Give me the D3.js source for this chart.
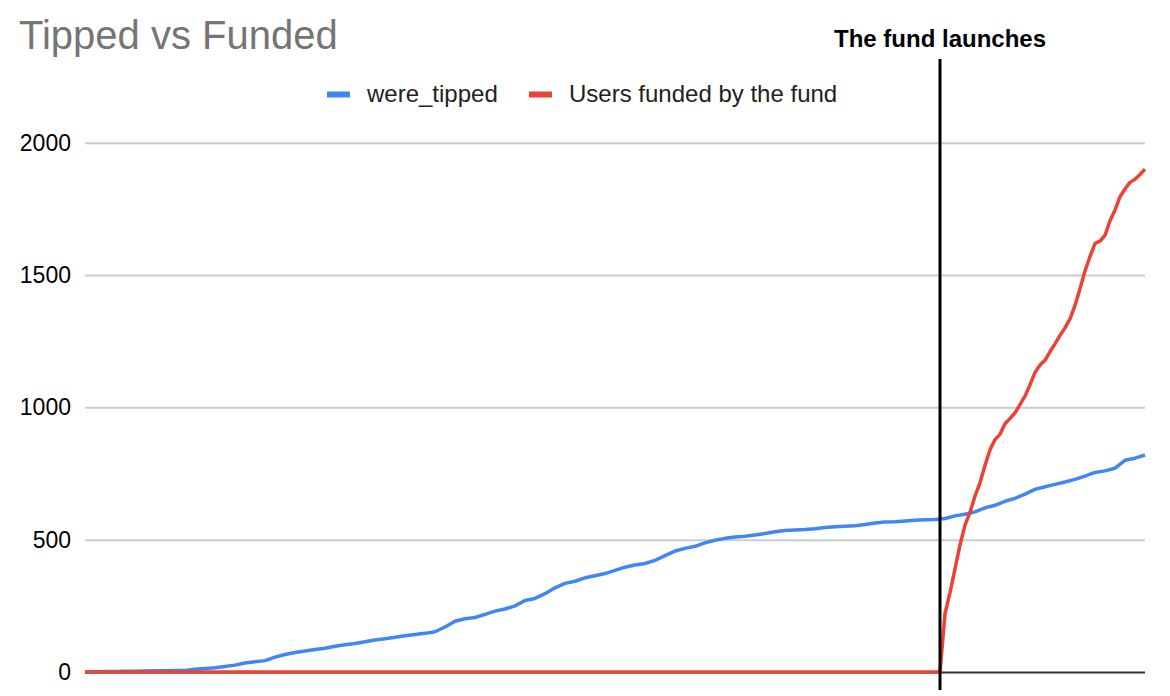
<!DOCTYPE html>
<html>
<head>
<meta charset="utf-8">
<script src="https://cdn.jsdelivr.net/npm/d3@7"></script>
<style>
  body { margin: 0; background: #fff; }
  text { font-family: Arial, "Liberation Sans", sans-serif; }
</style>
</head>
<body>
<div id="chart"></div>
<script>
// days since the start of the series; tipped is sampled every 2 days
var totalDays = 212;
var launchDay = 171;
var tippedStep = 2;

var tipped = [0, 1, 2, 2, 3, 3, 4, 5, 5, 6, 6, 10, 13, 16, 21, 26, 34, 39, 43, 56,
  66, 74, 79, 85, 90, 97, 103, 108, 114, 121, 126, 131, 137, 142, 146, 152, 170, 192, 201, 206,
  218, 230, 238, 250, 270, 278, 296, 318, 335, 343, 356, 364, 372, 384, 396, 404, 410, 422, 440, 457,
  467, 475, 488, 498, 505, 510, 513, 518, 523, 530, 535, 537, 538, 541, 546, 549, 551, 553, 557, 563,
  567, 568, 571, 573, 575, 576, 580, 590, 596, 605, 620, 630, 645, 656, 672, 690, 700, 709, 718, 728,
  740, 754, 760, 770, 800, 808, 820];

// funded users: zero before the launch, then one value per day from the launch day
var fundedBefore = 0;
var funded = [0, 220, 300, 390, 480, 555, 603, 665, 715, 780, 840, 878, 898, 938, 958, 979,
  1010, 1042, 1085, 1132, 1160, 1178, 1210, 1240, 1272, 1300, 1334, 1385, 1448, 1515, 1570,
  1619, 1628, 1650, 1705, 1745, 1796, 1825, 1850, 1862, 1880, 1900];

var yTicks = [0, 500, 1000, 1500, 2000];
var seriesNames = ["were_tipped", "Users funded by the fund"];
var seriesColors = ["#4285f4", "#ea4335"];

var W = 1170, H = 696;
var plotLeft = 85, plotRight = 1145, plotTop = 142.7, plotBottom = 672;

var svg = d3.select("#chart").append("svg")
    .attr("width", W)
    .attr("height", H);

var x = d3.scaleLinear().domain([0, totalDays]).range([plotLeft, plotRight]);
var y = d3.scaleLinear().domain([0, 2000]).range([plotBottom, plotTop]);

// title
svg.append("text")
    .attr("x", 19)
    .attr("y", 49)
    .attr("font-size", 40)
    .attr("fill", "#757575")
    .text("Tipped vs Funded");

// gridlines + y labels
var yAxis = svg.append("g")
    .attr("transform", "translate(" + plotLeft + ",0)")
    .call(d3.axisLeft(y).tickValues(yTicks).tickSize(-(plotRight - plotLeft)).tickPadding(14).tickFormat(d3.format("d")));
yAxis.select(".domain").remove();
yAxis.selectAll(".tick line")
    .attr("stroke", function(d) { return d === 0 ? "#333" : "#ccc"; })
    .attr("stroke-width", 2);
yAxis.selectAll(".tick text")
    .attr("font-size", 23)
    .attr("fill", "#000")
    .attr("font-family", "Arial, 'Liberation Sans', sans-serif");

// legend
var legendItems = [{x: 327, label: seriesNames[0], color: seriesColors[0]},
                   {x: 529, label: seriesNames[1], color: seriesColors[1]}];
var lg = svg.selectAll(".legend").data(legendItems).enter().append("g")
    .attr("class", "legend")
    .attr("transform", function(d) { return "translate(" + d.x + ",0)"; });
lg.append("rect")
    .attr("x", 0).attr("y", 91.5)
    .attr("width", 23).attr("height", 6)
    .attr("fill", function(d) { return d.color; });
lg.append("text")
    .attr("x", 40).attr("y", 102)
    .attr("font-size", 24)
    .attr("fill", "#222")
    .text(function(d) { return d.label; });

var line = d3.line()
    .x(function(d) { return x(d[0]); })
    .y(function(d) { return y(d[1]); });

var tippedData = tipped.map(function(v, i) { return [i * tippedStep, v]; });
var fundedData = [[0, fundedBefore]].concat(funded.map(function(v, i) { return [launchDay + i, v]; }));

svg.append("path")
    .datum(tippedData)
    .attr("d", line)
    .attr("fill", "none")
    .attr("stroke", seriesColors[0])
    .attr("stroke-width", 3.5)
    .attr("stroke-linejoin", "round");

svg.append("path")
    .datum(fundedData)
    .attr("d", line)
    .attr("fill", "none")
    .attr("stroke", seriesColors[1])
    .attr("stroke-width", 3.5)
    .attr("stroke-linejoin", "round");

// launch marker
svg.append("line")
    .attr("x1", x(launchDay)).attr("x2", x(launchDay))
    .attr("y1", 59).attr("y2", 690)
    .attr("stroke", "#000")
    .attr("stroke-width", 3);

svg.append("text")
    .attr("x", x(launchDay))
    .attr("y", 47)
    .attr("text-anchor", "middle")
    .attr("font-size", 24)
    .attr("font-weight", "bold")
    .attr("fill", "#000")
    .text("The fund launches");
</script>
</body>
</html>
